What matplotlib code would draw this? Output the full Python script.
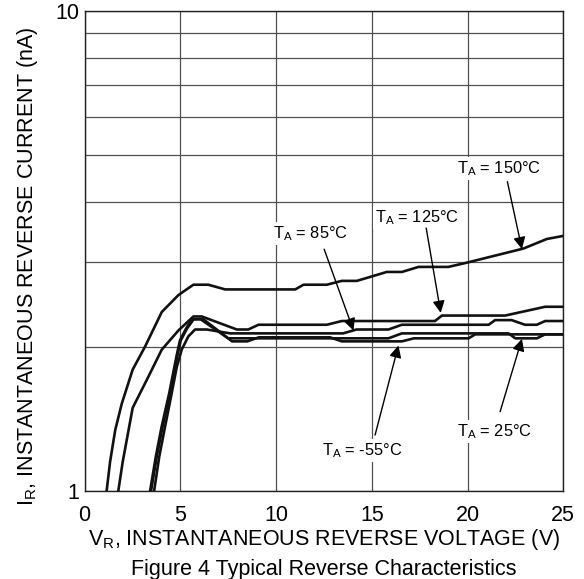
import matplotlib
matplotlib.use("Agg")
import matplotlib.pyplot as plt
from matplotlib.ticker import FixedLocator, FixedFormatter, NullFormatter

plt.rcParams['font.family'] = ['Liberation Sans', 'DejaVu Sans']
plt.rcParams['mathtext.fontset'] = 'custom'
plt.rcParams['mathtext.rm'] = 'Liberation Sans'
plt.rcParams['mathtext.it'] = 'Liberation Sans'

# ---- data ----
v150 = [1.15, 1.33, 1.6, 1.94, 2.51, 3.16, 4.03, 4.9, 5.68, 6.46, 7.34, 11.0, 11.43,
        12.65, 13.43, 14.22, 15.78, 16.57, 17.44, 19.0, 19.96, 22.92, 24.14, 25.0]
i150 = [1.0, 1.15, 1.34, 1.52, 1.79, 2.0, 2.36, 2.56, 2.69, 2.69, 2.63, 2.63, 2.69,
        2.69, 2.74, 2.74, 2.86, 2.86, 2.93, 2.93, 2.99, 3.20, 3.35, 3.40]

v125 = [1.76, 1.99, 2.51, 3.33, 4.03, 4.9, 5.68, 6.12, 7.95, 8.55, 9.08, 12.65,
        13.43, 18.3, 18.66, 21.96, 24.05, 25.0]
i125 = [1.0, 1.15, 1.49, 1.73, 1.97, 2.16, 2.31, 2.31, 2.17, 2.17, 2.22, 2.22,
        2.26, 2.26, 2.32, 2.32, 2.42, 2.42]

v85 = [3.63, 3.9, 4.2, 4.55, 4.81, 5.07, 5.42, 5.77, 6.38, 7.6, 13.5, 14.2, 15.87,
       16.57, 21.1, 21.44, 22.3, 23.0, 23.62, 24.05, 25.0]
i85 = [1.0, 1.18, 1.36, 1.60, 1.81, 1.97, 2.10, 2.17, 2.17, 2.13, 2.13, 2.17, 2.17,
       2.22, 2.22, 2.27, 2.27, 2.22, 2.22, 2.26, 2.26]

v25 = [3.42, 3.72, 4.02, 4.42, 4.8, 4.98, 5.3, 5.6, 6.05, 7.5, 15.87, 16.57, 22.14,
       22.49, 23.62, 24.05, 25.0]
i25 = [1.0, 1.18, 1.36, 1.60, 1.91, 2.06, 2.18, 2.28, 2.28, 2.08, 2.08, 2.13, 2.13,
       2.08, 2.08, 2.12, 2.12]

vm55 = [3.47, 3.77, 4.07, 4.47, 4.84, 5.02, 5.35, 5.7, 6.2, 7.7, 8.5, 9.1, 12.82,
        13.43, 16.57, 17.2, 20.05, 20.4, 25.0]
im55 = [1.0, 1.18, 1.36, 1.60, 1.91, 2.06, 2.18, 2.28, 2.28, 2.05, 2.05, 2.09, 2.09,
        2.05, 2.05, 2.08, 2.08, 2.12, 2.12]

x_ticks = [0, 5, 10, 15, 20, 25]
y_major = [1, 10]
y_major_labels = ['1', '10']
y_minor = [2, 3, 4, 5, 6, 7, 8, 9]

labels = ['T$_\\mathrm{A}$ = 150°C', 'T$_\\mathrm{A}$ = 125°C', 'T$_\\mathrm{A}$ = 85°C',
          'T$_\\mathrm{A}$ = -55°C', 'T$_\\mathrm{A}$ = 25°C']

# ---- figure ----
fig = plt.figure(figsize=(5.84, 5.79), dpi=100)
ax = fig.add_axes([84.6 / 584, 1 - 491 / 579, (563.3 - 84.6) / 584, 480 / 579])
ax.set_yscale('log')
ax.set_xlim(0, 25)
ax.set_ylim(1, 10)

ax.xaxis.set_major_locator(FixedLocator(x_ticks))
ax.yaxis.set_major_locator(FixedLocator(y_major))
ax.yaxis.set_major_formatter(FixedFormatter(y_major_labels))
ax.yaxis.set_minor_locator(FixedLocator(y_minor))
ax.yaxis.set_minor_formatter(NullFormatter())
ax.tick_params(axis='both', which='both', length=0, labelsize=15.5, colors='black')
ax.tick_params(axis='x', pad=10)
ax.tick_params(axis='y', pad=4)

ax.grid(True, which='major', axis='x', color='#505050', lw=0.9)
ax.grid(True, which='both', axis='y', color='#505050', lw=0.9)
ax.set_axisbelow(True)
for s in ax.spines.values():
    s.set_color('#202020')
    s.set_linewidth(1.0)

lw = 1.9
for v, i in [(v150, i150), (v125, i125), (v85, i85), (v25, i25), (vm55, im55)]:
    ax.plot(v, i, color='#111111', lw=lw, solid_joinstyle='round', zorder=3, clip_on=True)

# annotation texts (left x, baseline y)
text_pos = [(19.44, 4.59), (15.17, 3.63), (9.86, 3.36), (12.39, 1.188), (19.44, 1.302)]
arrows = [((22.08, 4.41), (22.84, 3.19)),
          ((17.84, 3.53), (18.6, 2.35)),
          ((12.51, 3.19), (14.04, 2.16)),
          ((15.17, 1.308), (16.39, 2.01)),
          ((21.7, 1.463), (22.84, 2.075))]

for lab, (tx, ty) in zip(labels, text_pos):
    ax.text(tx, ty, lab, fontsize=11.8, ha='left', va='baseline', zorder=4,
            bbox=dict(facecolor='white', edgecolor='none', pad=1.5))

for (s, t) in arrows:
    ax.annotate('', xy=t, xytext=s,
                arrowprops=dict(arrowstyle='-|>', color='black', lw=1.0,
                                mutation_scale=18, shrinkA=0, shrinkB=0),
                zorder=5)

ax.text(0.5, -(544.6 - 491) / 480, 'V$_\\mathrm{R}$, INSTANTANEOUS REVERSE VOLTAGE (V)',
        transform=ax.transAxes, ha='center', va='baseline', fontsize=15.5)
ax.text(0.5, -(574.5 - 491) / 480, 'Figure 4 Typical Reverse Characteristics',
        transform=ax.transAxes, ha='center', va='baseline', fontsize=15.5)
ax.text((33.5 - 84.6) / 478.7, 0.469, 'I$_\\mathrm{R}$, INSTANTANEOUS REVERSE CURRENT (nA)',
        transform=ax.transAxes, ha='center', va='baseline', rotation=90,
        rotation_mode='anchor', fontsize=15.5)

fig.savefig('out.png', dpi=100, facecolor='white')
